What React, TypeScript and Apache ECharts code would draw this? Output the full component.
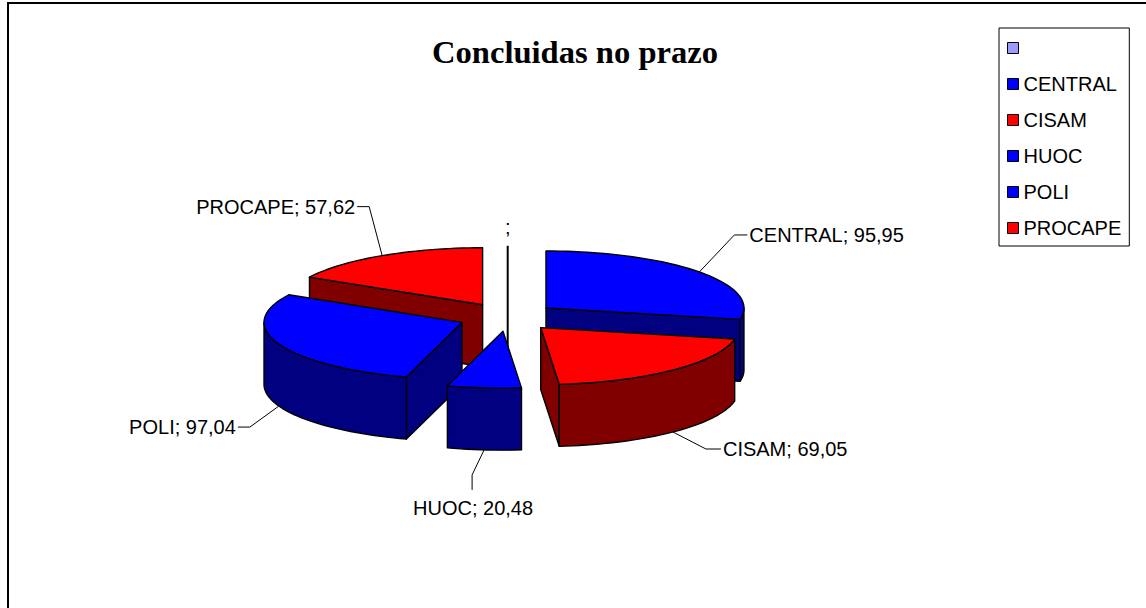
import React, { useEffect, useRef } from "react";
import * as echarts from "echarts";

const categories = [" ", "CENTRAL", "CISAM", "HUOC", "POLI", "PROCAPE"];
const values = [0, 95.95, 69.05, 20.48, 97.04, 57.62];
const topColors = ["#9999FF", "#0000FF", "#FF0000", "#0000FF", "#0000FF", "#FF0000"];
const wallColors = ["#000000", "#000080", "#800000", "#000080", "#000080", "#800000"];
// leader line of each label: knee relative to the rim midpoint, tip relative to the knee
const leaderKnees = [[0, 0], [35, -37], [33, 17], [-12, 25], [-29, 21], [-13, -49]];
const leaderTips = [[0, 0], [13, 0], [15, 0], [0, 15], [-12, 0], [-12, 0]];

const CX = 507.7, CY = 317, RX = 198, RY = 57, DEPTH = 62, EXPLODE = 49.4;
const FONT = "'Liberation Sans', Arial, sans-serif";
const rad = (d: number) => (d * Math.PI) / 180;
const total = values.reduce((a, b) => a + b, 0);

type Slice = { i: number; start: number; end: number; mid: number; ax: number; ay: number };
let cursor = 0;
const slices: Slice[] = values.map((v, i) => {
  const start = cursor;
  const end = cursor + (v / total) * 360;
  cursor = end;
  const mid = (start + end) / 2;
  return { i, start, end, mid, ax: CX + EXPLODE * Math.sin(rad(mid)), ay: CY - (EXPLODE * RY * Math.cos(rad(mid))) / RX };
});

function rimPoint(s: Slice, deg: number, drop = 0): number[] {
  return [s.ax + RX * Math.sin(rad(deg)), s.ay - RY * Math.cos(rad(deg)) + drop];
}
function arc(s: Slice, a: number, b: number, drop = 0): number[][] {
  const pts: number[][] = [];
  const n = Math.max(1, Math.ceil(Math.abs(b - a) / 2));
  for (let k = 0; k <= n; k++) pts.push(rimPoint(s, a + ((b - a) * k) / n, drop));
  return pts;
}
const formatValue = (v: number) => (v ? v.toFixed(2).replace(".", ",") : "");

function sliceElements(s: Slice) {
  const edge = { stroke: "#000", lineWidth: 1.4, lineJoin: "round" };
  const wall = wallColors[s.i];
  const children: any[] = [];
  const poly = (points: number[][], fill: string) => children.push({ type: "polygon", silent: true, shape: { points }, style: { fill, ...edge } });
  const apex = [s.ax, s.ay];
  const apexLow = [s.ax, s.ay + DEPTH];
  const name = categories[s.i].trim();
  const rimMid = rimPoint(s, s.mid);
  if (s.end === s.start) {
    children.push({ type: "line", silent: true, shape: { x1: rimMid[0], y1: rimMid[1], x2: apexLow[0], y2: apexLow[1] }, style: { stroke: "#000", lineWidth: 2 } });
    children.push({ type: "text", silent: true, style: { text: ";", x: rimMid[0], y: rimMid[1] - 19, fill: "#000", font: `20px ${FONT}`, align: "center", verticalAlign: "middle" } });
    return children;
  }
  const wallFor = (deg: number) => {
    const r = rimPoint(s, deg);
    poly([apex, r, [r[0], r[1] + DEPTH], apexLow], wall);
  };
  if (Math.sin(rad(s.start)) < -1e-6) wallFor(s.start);
  if (Math.sin(rad(s.end)) > 1e-6) wallFor(s.end);
  const a = Math.max(s.start, 90), b = Math.min(s.end, 270);
  if (b > a) poly([...arc(s, a, b), ...arc(s, b, a, DEPTH)], wall);
  poly([apex, ...arc(s, s.start, s.end)], topColors[s.i]);

  const front = Math.cos(rad(s.mid)) < 0;
  const from = [rimMid[0], rimMid[1] + (front ? DEPTH : 0)];
  const knee = [from[0] + leaderKnees[s.i][0], from[1] + leaderKnees[s.i][1]];
  const tipOff = leaderTips[s.i];
  const tip = [knee[0] + tipOff[0], knee[1] + tipOff[1]];
  children.push({ type: "polyline", silent: true, shape: { points: [from, knee, tip] }, style: { stroke: "#000", lineWidth: 1, fill: "none" } });
  const below = tipOff[0] === 0;
  children.push({
    type: "text", silent: true,
    style: {
      text: `${name}; ${formatValue(values[s.i])}`,
      x: below ? tip[0] + 1 : tip[0] + (tipOff[0] > 0 ? 2 : -2),
      y: below ? tip[1] + 18 : tip[1],
      fill: "#000", font: `20px ${FONT}`,
      align: below ? "center" : tipOff[0] > 0 ? "left" : "right",
      verticalAlign: "middle",
    },
  });
  return children;
}

export default function App() {
  const ref = useRef<HTMLDivElement>(null);
  useEffect(() => {
    document.body.style.margin = "0";
    const chart = echarts.init(ref.current!, undefined, { renderer: "svg" });
    const paintOrder = [...slices].sort((p, q) => p.ay - q.ay);
    chart.setOption({
      animation: false,
      backgroundColor: "#fff",
      title: {
        text: "Concluidas no prazo",
        left: 570, top: 30, textAlign: "center",
        textStyle: { fontFamily: "'Liberation Serif', serif", fontWeight: "bold", fontSize: 32.6, color: "#000" },
      },
      legend: {
        data: categories,
        orient: "vertical",
        left: 999, top: 28,
        padding: [10, 8, 8, 8],
        itemGap: 16,
        itemWidth: 11, itemHeight: 11,
        icon: "rect",
        selectedMode: false,
        backgroundColor: "#fff",
        borderColor: "#000",
        borderWidth: 1,
        borderRadius: 0,
        itemStyle: { borderColor: "#000", borderWidth: 1 },
        textStyle: { fontFamily: FONT, fontSize: 20, color: "#000", lineHeight: 20 },
      },
      graphic: [{
        type: "polyline", silent: true, z: -1,
        shape: { points: [[8, 620], [8, 3], [1146, 3]] },
        style: { fill: "none", stroke: "#000", lineWidth: 2 },
      }],
      series: paintOrder.map((s) => ({
        type: "custom",
        name: categories[s.i],
        coordinateSystem: "none",
        silent: true,
        itemStyle: { color: topColors[s.i] },
        data: [[values[s.i]]],
        renderItem: () => ({ type: "group", children: sliceElements(s) }),
      })),
    });
    return () => chart.dispose();
  }, []);
  return <div ref={ref} style={{ position: "absolute", left: 0, top: 0, width: 1146, height: 608 }} />;
}
